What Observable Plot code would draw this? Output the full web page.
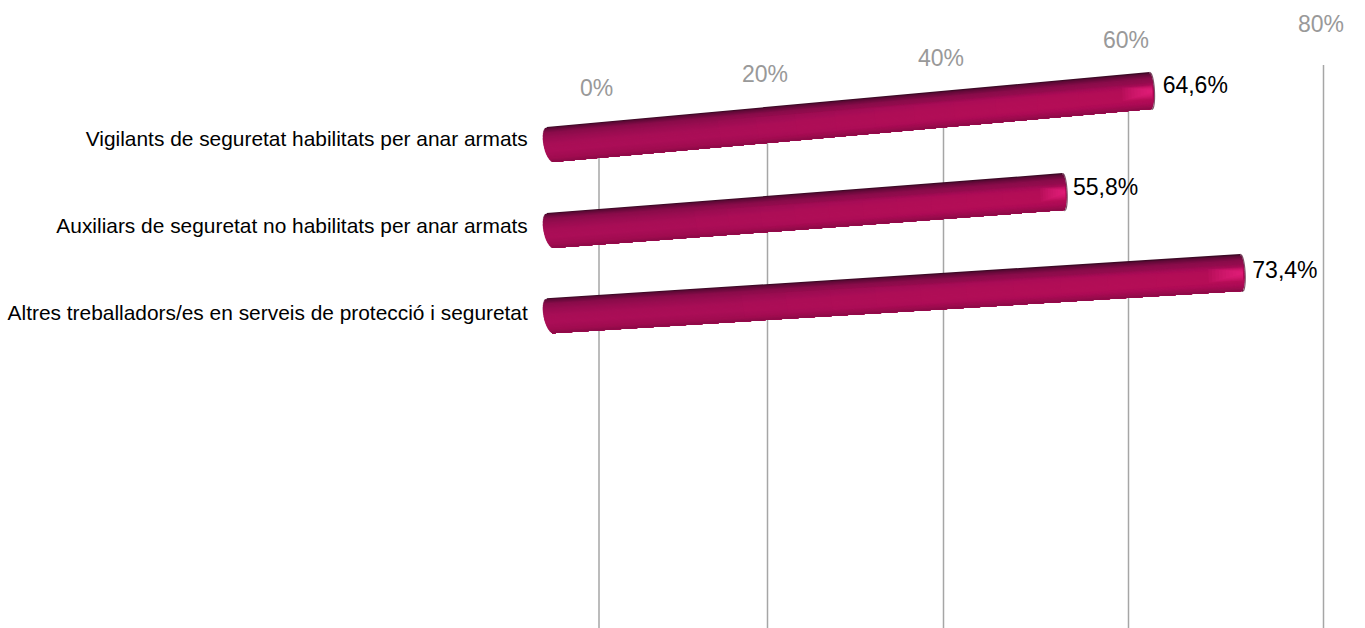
<!DOCTYPE html>
<html><head><meta charset="utf-8">
<style>html,body{margin:0;padding:0;background:#fff}svg{display:block}</style>
<script src="https://cdn.jsdelivr.net/npm/d3@7"></script>
<script src="https://cdn.jsdelivr.net/npm/@observablehq/plot@0.6"></script>
</head><body><div id="c"></div>
<script>
const categories = ["Vigilants de seguretat habilitats per anar armats","Auxiliars de seguretat no habilitats per anar armats","Altres treballadors/es en serveis de protecció i seguretat"];
const values = [64.6, 55.8, 73.4];
const valueLabels = ["64,6%","55,8%","73,4%"];
// perspective: where each bar appears on the receding axis, and its row position
const barStart = [-5.8, -5.8, -5.8];
const barEnd = [62.3, 53.0, 71.6];
const rowLeft = [0, 1.0, 1.99];
const rowRight = [-0.628, 0.547, 1.488];
const labelRow = [-0.064, 0.948, 1.96];
const valueRow = [-0.686, 0.50, 1.46];
const labelAt = -8.45;
const valueAt = [63.5, 54.0, 72.7];
const ticks = [0, 20, 40, 60, 80];
const tickLabels = ["0%","20%","40%","60%","80%"];
const tickRow = [-0.657, -0.820, -1.006, -1.215, -1.401];
const gridTopRow = [-0.05, -0.23, -0.34, -0.52, -0.924];
const gridBottomRow = 5.63;
const shadeT = [-1, -0.9, -0.65, -0.3, 0, 0.4, 0.8, 1];
const shadeC = ["#2e0a1e","#5e0a36","#8a0c4a","#9c0d52","#a80e56","#ab0e57","#a00c50","#8c0a46"];

const shade = d3.scaleLinear().domain(shadeT).range(shadeC).interpolate(d3.interpolateRgb);
const hL = 0.2035, hR = 0.215, capL = 0.77, capR = 0.36, shearL = 0.36, shearR = 0.1;
const round = t => Math.sqrt(Math.max(0, 1 - t * t));
function pt(i, t, u) { // t across, u along (0 left .. 1 right)
  const xl = barStart[i] + shearL * t - capL * round(t);
  const xr = barEnd[i] + shearR * t + capR * round(t);
  const yl = rowLeft[i] + hL * t, yr = rowRight[i] + hR * t;
  return [xl + (xr - xl) * u, yl + (yr - yl) * u];
}
function quad(rows, id, i, t0, t1, u0, u1, c) {
  const [ax, ay] = pt(i, t0, u0), [bx, by] = pt(i, t1, u0), [cx, cy] = pt(i, t0, u1), [dx, dy] = pt(i, t1, u1);
  rows.push({id, c, x1: ax, y1: ay, x2: bx, y2: by}, {id, c, x1: cx, y1: cy, x2: dx, y2: dy});
}
const bands = [], glow = [], rim = [], capEdge = [];
const N = 32;
categories.forEach((_, i) => {
  // painted top to bottom, each band covering everything below it, so there are no seams
  for (let k = 0; k < N; k++) {
    const t0 = -1 + 2 * k / N, t1 = -1 + 2 * (k + 1) / N;
    quad(bands, `b${i}-${k}`, i, t0, 1, 0, 1, shade((t0 + t1) / 2));
  }
  // brightening toward the free end
  for (let j = 0; j < 10; j++) {
    quad(glow, `g${i}-${j}`, i, -0.45 + j * 0.03, 0.8 - j * 0.03, 0.3 + j * 0.065, 1, "#c81068");
  }
  // highlight just before the cap
  for (let j = 0; j < 10; j++) {
    quad(rim, `r${i}-${j}`, i, -0.3 + j * 0.028, 0.45 - j * 0.04, 0.998 - (10 - j) * 0.0045, 0.998, "#ff2a90");
  }
  for (let k = 0; k <= 30; k++) {
    const [x, y] = pt(i, -1 + 2 * k / 30, 1);
    capEdge.push({id: i, x, y});
  }
});

const area = (data, o) => Plot.area(data, {x1:"x1", y1:"y1", x2:"x2", y2:"y2", z:"id", fill:"c", curve:"linear", ...o});
const idx = d3.range(categories.length);
const tIdx = d3.range(ticks.length);
const chart = Plot.plot({
  width: 1365, height: 628, margin: 0,
  x: {type:"linear", domain: ticks, range: [598.5, 767, 943, 1128, 1323], axis: null},
  y: {type:"linear", domain: [-1.680, 5.622], range: [0, 628], axis: null},
  color: {type:"identity"},
  style: {fontFamily:"'Liberation Sans', Arial, sans-serif", background:"#fff", overflow:"visible"},
  marks: [
    Plot.ruleX(tIdx, {x: i => ticks[i], y1: i => gridTopRow[i], y2: () => gridBottomRow, stroke:"#a6a6a6", strokeWidth:1.5}),
    Plot.text(tIdx, {x: i => ticks[i], y: i => tickRow[i], text: i => tickLabels[i], dx:-2.5, fontSize:23, fill:"#999999", textAnchor:"middle"}),
    area(bands, {}),
    area(glow, {fillOpacity:0.06}),
    area(rim, {fillOpacity:0.09}),
    Plot.line(capEdge, {x:"x", y:"y", z:"id", stroke:"#4a0a2a", strokeWidth:1.2, strokeOpacity:0.7, curve:"linear"}),
    Plot.text(idx, {x: () => labelAt, y: i => labelRow[i], text: i => categories[i], textAnchor:"end", fontSize:20.9, fill:"#000"}),
    Plot.text(idx, {x: i => valueAt[i], y: i => valueRow[i], text: i => valueLabels[i], textAnchor:"start", fontSize:23, fill:"#000"})
  ]
});
document.getElementById("c").appendChild(chart);
</script></body></html>
